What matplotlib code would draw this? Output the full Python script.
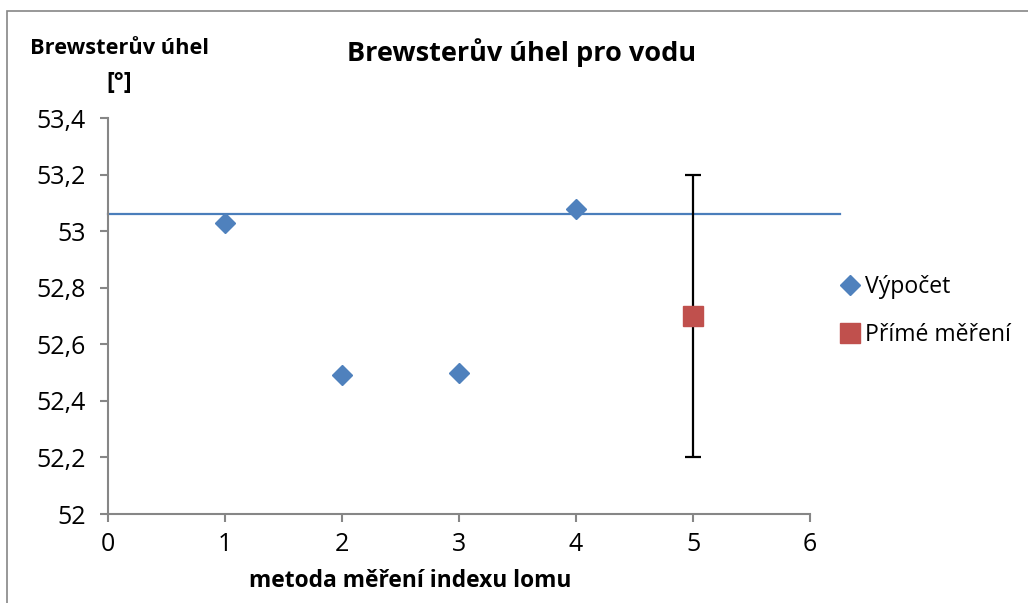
import matplotlib
matplotlib.use("Agg")
import matplotlib.pyplot as plt
from matplotlib.patches import Rectangle

plt.rcParams['font.family'] = ['Open Sans', 'DejaVu Sans']

# Data
metody_vypocet = [1, 2, 3, 4]
uhel_vypocet = [53.03, 52.49, 52.50, 53.08]
metoda_prime = [5]
uhel_prime = [52.70]
chyba_prime = [0.5]
prumer_x = [0, 6.26]
prumer_y = [53.06, 53.06]

x_ticks = [0, 1, 2, 3, 4, 5, 6]
y_ticks = [52.0, 52.2, 52.4, 52.6, 52.8, 53.0, 53.2, 53.4]
y_labels = ["52", "52,2", "52,4", "52,6", "52,8", "53", "53,2", "53,4"]

blue = "#4F81BD"
red = "#C0504D"
axis_gray = "#868686"

fig = plt.figure(figsize=(10.28, 6.03), dpi=100)
fig.patches.append(Rectangle((7 / 1028, -0.01), 1.1, 1 - 11 / 603 + 0.01,
                             transform=fig.transFigure, fill=False,
                             edgecolor=axis_gray, linewidth=1.2))

ax = fig.add_axes([108 / 1028, 1 - 514 / 603, (810 - 108) / 1028, (514 - 118) / 603])

# average line across the whole range
ax.plot(prumer_x, prumer_y, color="#4A7EBB", linewidth=1.6, clip_on=False, zorder=2)

# error bar of the direct measurement
ax.errorbar(metoda_prime, uhel_prime, yerr=chyba_prime, fmt="none",
            ecolor="black", elinewidth=1.6, capsize=6, capthick=1.6, zorder=3)

ax.plot(metody_vypocet, uhel_vypocet, linestyle="none", marker="D", markersize=10,
        color=blue, markeredgecolor=blue, label="Výpočet", zorder=4)
ax.plot(metoda_prime, uhel_prime, linestyle="none", marker="s", markersize=15,
        color=red, markeredgecolor=red, label="Přímé měření", zorder=4)

ax.set_xlim(0, 6)
ax.set_ylim(52, 53.4)
ax.set_xticks(x_ticks)
ax.set_xticklabels([str(t) for t in x_ticks])
ax.set_yticks(y_ticks)
ax.set_yticklabels(y_labels)

for side in ("top", "right"):
    ax.spines[side].set_visible(False)
for side in ("left", "bottom"):
    ax.spines[side].set_color(axis_gray)
    ax.spines[side].set_linewidth(1.5)
ax.tick_params(axis="both", direction="out", length=6, width=1.5, color=axis_gray,
               labelsize=18, labelcolor="black")
ax.tick_params(axis="x", pad=7)
ax.tick_params(axis="y", pad=10)

fig.text(522 / 1028, 1 - 61 / 603, "Brewsterův úhel pro vodu",
         ha="center", va="baseline", fontsize=19.5, fontweight="bold")
fig.text(119 / 1028, 1 - 54 / 603, "Brewsterův úhel", ha="center", va="baseline",
         fontsize=15.7, fontweight="bold")
fig.text(119 / 1028, 1 - 89 / 603, "[°]", ha="center", va="baseline",
         fontsize=17, fontweight="bold")
fig.text(410 / 1028, 1 - 587 / 603, "metoda měření indexu lomu", ha="center",
         va="baseline", fontsize=16.4, fontweight="bold")

leg = fig.legend(loc="upper left", bbox_to_anchor=(840 / 1028, 1 - 275 / 603),
                 frameon=False, fontsize=16.6, handlelength=0.9, handletextpad=0.2,
                 labelspacing=1.05, borderaxespad=0, borderpad=0)
leg.legend_handles[1].set_markersize(14)

fig.savefig("out.png", dpi=100)
